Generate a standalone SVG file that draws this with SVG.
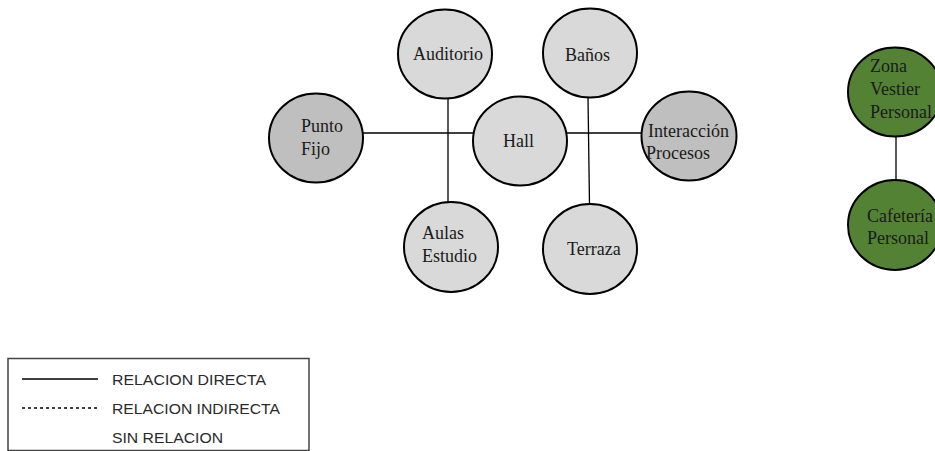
<svg xmlns="http://www.w3.org/2000/svg" width="935" height="451" viewBox="0 0 935 451">
<style>
.n{stroke:#000;stroke-width:2}
.l{fill:#d9d9d9}
.d{fill:#bfbfbf}
.g{fill:#548235}
.t{font-family:"Liberation Serif","Times New Roman",serif;font-size:18px;fill:#1a1a1a}
.c{stroke:#000;stroke-width:1.3;fill:none}
.lg{font-family:"Liberation Sans",Arial,sans-serif;font-size:15px;fill:#2a2a2a}
</style>
<rect width="935" height="451" fill="#fff"/>
<g id="connectors">
<line class="c" x1="363" y1="133" x2="474" y2="133"/>
<line class="c" x1="566" y1="133" x2="641" y2="133"/>
<line class="c" x1="448" y1="98" x2="448" y2="203"/>
<line class="c" x1="588" y1="97" x2="589.5" y2="205"/>
<line class="c" x1="896" y1="136" x2="896" y2="181"/>
</g>
<g id="auditorio"><ellipse class="n l" cx="445" cy="54" rx="47" ry="44.5"/><text class="t" x="413" y="60">Auditorio</text></g>
<g id="banos"><ellipse class="n l" cx="590" cy="53" rx="47" ry="44.5"/><text class="t" x="565" y="61">Baños</text></g>
<g id="punto-fijo"><ellipse class="n d" cx="316" cy="138" rx="47" ry="44.5"/><text class="t" x="301" y="132">Punto</text><text class="t" x="301" y="155">Fijo</text></g>
<g id="hall"><ellipse class="n l" cx="520" cy="141" rx="47" ry="44.5"/><text class="t" x="503" y="147">Hall</text></g>
<g id="interaccion"><ellipse class="n d" cx="689" cy="136" rx="47.5" ry="44.5"/><text class="t" x="648" y="137">Interacción</text><text class="t" x="646" y="159">Procesos</text></g>
<g id="aulas"><ellipse class="n l" cx="451" cy="247" rx="47" ry="45"/><text class="t" x="422" y="239">Aulas</text><text class="t" x="422" y="262">Estudio</text></g>
<g id="terraza"><ellipse class="n l" cx="590" cy="249" rx="47" ry="45"/><text class="t" x="567" y="255">Terraza</text></g>
<g id="zona-vestier"><ellipse class="n g" cx="895" cy="92" rx="47" ry="44.5"/><text class="t" x="870" y="72">Zona</text><text class="t" x="870" y="95">Vestier</text><text class="t" x="870" y="118">Personal</text></g>
<g id="cafeteria"><ellipse class="n g" cx="895" cy="225" rx="47" ry="45"/><text class="t" x="867" y="222">Cafetería</text><text class="t" x="867" y="244">Personal</text></g>
<g id="legend">
<rect x="8" y="358.5" width="301" height="92" fill="#fff" stroke="#444" stroke-width="1.5"/>
<line x1="22" y1="379" x2="98" y2="379" stroke="#000" stroke-width="1.3"/>
<line x1="22" y1="408" x2="98" y2="408" stroke="#000" stroke-width="1.3" stroke-dasharray="3 3"/>
<text class="lg" x="112" y="384.5" textLength="154" lengthAdjust="spacingAndGlyphs">RELACION DIRECTA</text>
<text class="lg" x="112" y="413.5" textLength="168" lengthAdjust="spacingAndGlyphs">RELACION INDIRECTA</text>
<text class="lg" x="112" y="442.5" textLength="111" lengthAdjust="spacingAndGlyphs">SIN RELACION</text>
</g>
</svg>
